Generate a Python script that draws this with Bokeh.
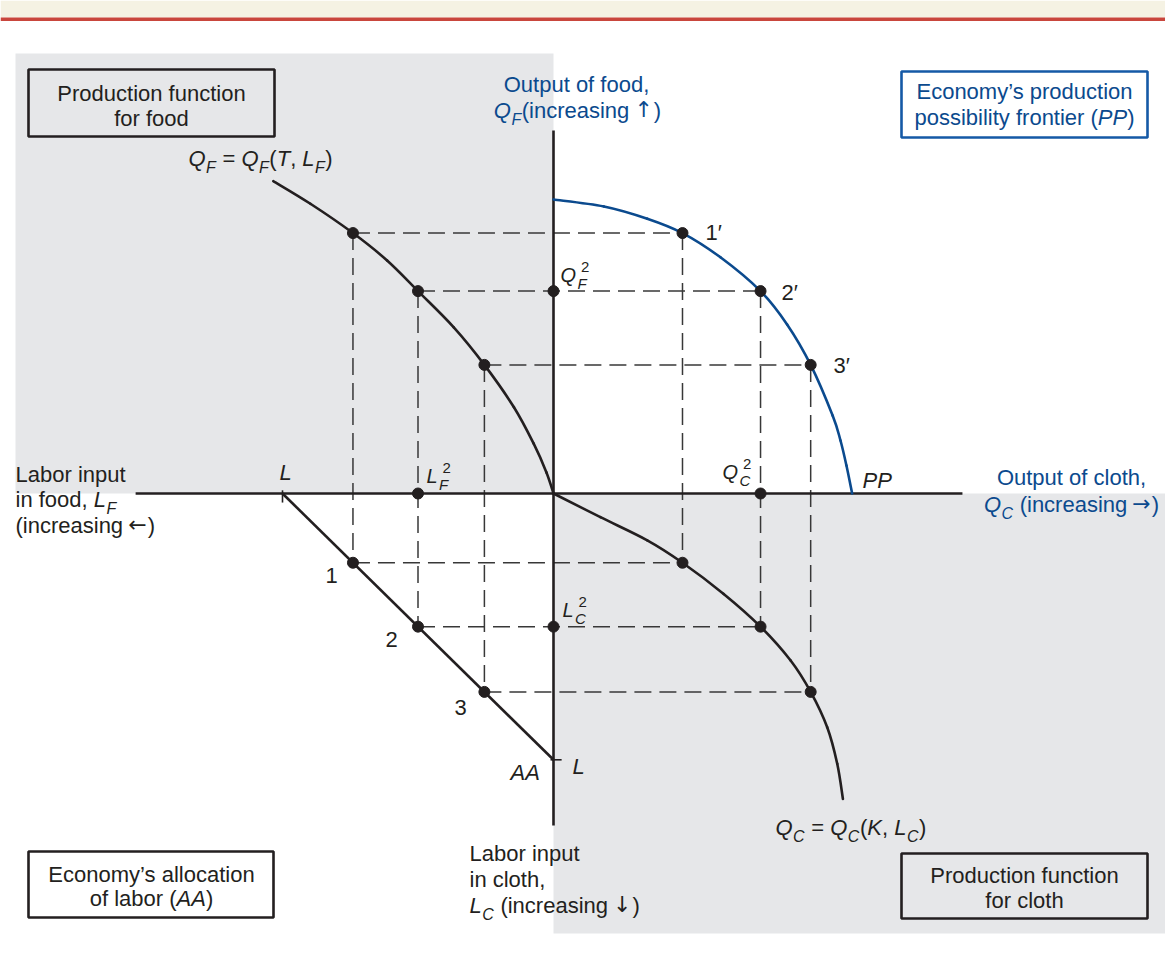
from bokeh.plotting import figure
from bokeh.models import Range1d
from bokeh.core.properties import value
from bokeh.embed import file_html
from bokeh.resources import INLINE

# ---------------- data (units: total labour L = 100) ----------------
labor_total = 100.0
point_labels = ["1", "2", "3"]
labor_food = [74.0, 50.0, 25.5]
labor_cloth = [26.0, 50.0, 74.5]
food_output = [97.8, 76.0, 48.3]
cloth_output = [47.6, 76.4, 94.9]

# production function for food  Q_F(T, L_F)
food_pf_labor = [103.4, 89.7, 74.0, 61.4, 50.0, 36.8, 25.5, 14.6, 7.3, 2.6, 0.0]
food_pf_output = [117.3, 108.8, 97.8, 87.5, 76.0, 62.4, 48.3, 32.4, 18.7, 7.9, 0.0]

# production function for cloth  Q_C(K, L_C)
cloth_pf_labor = [0.0, 8.9, 17.6, 26.0, 37.7, 50.0, 62.7, 74.5, 87.8, 101.5, 114.7]
cloth_pf_output = [0.0, 17.3, 34.6, 47.6, 62.8, 76.4, 87.5, 94.9, 101.0, 104.7, 106.8]

# production possibility frontier PP
pp_cloth = [0.0, 18.6, 34.6, 47.6, 61.6, 76.4, 86.2, 94.9, 103.0, 105.9, 108.1, 110.2]
pp_food = [110.4, 107.8, 103.2, 97.8, 88.7, 76.0, 63.5, 48.3, 29.3, 19.9, 10.5, 0.0]

axis_h = [-154.2, 150.9]
axis_v = [136.3, -124.7]

# ---------------- layout helpers ----------------
OX, OY, SX, SY = 553.0, 493.0, 2.71, 2.663
def X(px):
    return (px - OX) / SX
def Y(py):
    return (OY - py) / SY

INK = "#231f20"
BLUE = "#0b4a8e"
BOXBLUE = "#1559a6"
GRAY = "#e6e7e9"
DASH = "#383838"
FONT = "Liberation Sans"
FS = 22
SS = 16

W_FIG, H_FIG = 1165, 941
p = figure(width=W_FIG, height=H_FIG, x_range=Range1d(X(0), X(W_FIG)),
           y_range=Range1d(Y(H_FIG), Y(0)), output_backend="svg",
           toolbar_location=None, min_border=0, x_axis_type=None, y_axis_type=None)
p.grid.visible = False
p.outline_line_color = None
p.background_fill_color = "white"
p.border_fill_color = "white"

# top band
p.quad(left=[X(0)], right=[X(W_FIG)], bottom=[Y(17)], top=[Y(0)],
       fill_color="#f5f2e3", line_color=None)
p.quad(left=[X(0)], right=[X(W_FIG)], bottom=[Y(20.5)], top=[Y(17)],
       fill_color="#c9463d", line_color=None)

# gray quadrants
p.quad(left=[X(15)], right=[0], bottom=[0], top=[Y(53)], fill_color=GRAY, line_color=None)
p.quad(left=[0], right=[X(1165)], bottom=[Y(933)], top=[0], fill_color=GRAY, line_color=None)

# dashed guide lines
hx0, hx1, hy, vx, vy0, vy1 = [], [], [], [], [], []
for lf, lc, qf, qc in zip(labor_food, labor_cloth, food_output, cloth_output):
    hx0 += [-lf, -lf]; hx1 += [qc, qc]; hy += [qf, -lc]
    vx += [-lf, qc]; vy0 += [qf, qf]; vy1 += [-lc, -lc]
p.segment(x0=hx0, y0=hy, x1=hx1, y1=hy, line_color=DASH, line_width=1.5, line_dash="17 8")
p.segment(x0=vx, y0=vy0, x1=vx, y1=vy1, line_color=DASH, line_width=1.5, line_dash="17 8")

# axes
p.line(x=axis_h, y=[0, 0], line_color=INK, line_width=2.6)
p.line(x=[0, 0], y=axis_v, line_color=INK, line_width=2.6)
# ticks at L
p.segment(x0=[-labor_total, -1.1], y0=[1.2, -labor_total], x1=[-labor_total, 3.0],
          y1=[-3.4, -labor_total], line_color=INK, line_width=1.6)


def smooth_curve(xs, ys, color):
    """Draw a smooth curve through the given points (Catmull-Rom as Bezier pieces)."""
    n = len(xs)
    px = [xs[0]] + list(xs) + [xs[-1]]
    py = [ys[0]] + list(ys) + [ys[-1]]
    x0, y0, x1, y1, cx0, cy0, cx1, cy1 = [], [], [], [], [], [], [], []
    for i in range(1, n):
        a, b, c, d = i - 1, i, i + 1, i + 2
        x0.append(px[b]); y0.append(py[b]); x1.append(px[c]); y1.append(py[c])
        cx0.append(px[b] + (px[c] - px[a]) / 6.0); cy0.append(py[b] + (py[c] - py[a]) / 6.0)
        cx1.append(px[c] - (px[d] - px[b]) / 6.0); cy1.append(py[c] - (py[d] - py[b]) / 6.0)
    p.bezier(x0=x0, y0=y0, x1=x1, y1=y1, cx0=cx0, cy0=cy0, cx1=cx1, cy1=cy1,
             line_color=color, line_width=2.6, line_cap="round")


# curves
smooth_curve([-v for v in food_pf_labor], food_pf_output, INK)
smooth_curve(cloth_pf_output, [-v for v in cloth_pf_labor], INK)
smooth_curve(pp_cloth, pp_food, BLUE)
p.line(x=[-labor_total, 0], y=[0, -labor_total], line_color=INK, line_width=2.6)

# dots
dx = ([-v for v in labor_food] + cloth_output + cloth_output + [-v for v in labor_food]
      + [0, -labor_food[1], cloth_output[1], 0])
dy = (food_output + food_output + [-v for v in labor_cloth] + [-v for v in labor_cloth]
      + [food_output[1], 0, 0, -labor_cloth[1]])
p.scatter(x=dx, y=dy, size=11, fill_color=INK, line_color=INK)

# boxes
p.quad(left=[X(28)], right=[X(274)], top=[Y(69)], bottom=[Y(136)],
       fill_color=None, line_color=INK, line_width=2.6)
p.quad(left=[X(28)], right=[X(273)], top=[Y(851)], bottom=[Y(917)],
       fill_color=None, line_color=INK, line_width=2.6)
p.quad(left=[X(901)], right=[X(1147)], top=[Y(853)], bottom=[Y(918)],
       fill_color=None, line_color=INK, line_width=2.6)
p.quad(left=[X(901)], right=[X(1147)], top=[Y(71)], bottom=[Y(137)],
       fill_color=None, line_color=BOXBLUE, line_width=2.6)

# ---------------- text ----------------
W = {' ': 278, '(': 333, ')': 333, ',': 278, '.': 278, '=': 584, '’': 222}
for c in "0123456789":
    W[c] = 556
W.update(dict(zip("ABCDEFGHIJKLMNOPQRSTUVWXYZ",
                  [667, 667, 722, 722, 667, 611, 778, 722, 278, 500, 667, 556, 833,
                   722, 778, 667, 778, 722, 667, 611, 722, 667, 944, 667, 667, 611])))
W.update(dict(zip("abcdefghijklmnopqrstuvwxyz",
                  [556, 556, 500, 556, 556, 278, 556, 556, 222, 222, 500, 222, 833,
                   556, 556, 556, 556, 333, 500, 278, 556, 500, 722, 500, 500, 500])))
ARROW_FONT, ARROW_SIZE, ARROW_W = "DejaVu Sans", 22, 0.838
BASE_FIX = 0.36   # baseline correction (fraction of font size)


def tw(s, size):
    return sum(W.get(c, 556) for c in s) * size / 1000.0


def put(xp, yp, s, size=FS, style="normal", color=INK, align="left", font=FONT):
    stripped = s.lstrip(" ")
    if align == "left":
        xp += tw(s[:len(s) - len(stripped)], size)
    p.text(x=[X(xp)], y=[Y(yp - BASE_FIX * size)], text=[stripped], text_font=value(font),
           text_font_size=f"{size}px", text_font_style=style, text_color=color,
           text_align=align, text_baseline="alphabetic")


SUB_DY = 7


def compose(runs, xp, yp, color=INK, align="left", fs=FS, ss=SS):
    widths = []
    for t, k in runs:
        if k in ("n", "i"):
            widths.append(tw(t, fs))
        elif k == "sub":
            widths.append(tw(t, ss) + 1)
        elif k == "a":
            widths.append(ARROW_W * ARROW_SIZE)
        else:
            widths.append(max(tw(t[0], ss), tw(t[1], ss)) + 4)
    total = sum(widths)
    x = xp - total / 2 if align == "center" else xp
    for (t, k), w in zip(runs, widths):
        if k == "n":
            put(x, yp, t, fs, "normal", color)
        elif k == "i":
            put(x, yp, t, fs, "italic", color)
        elif k == "sub":
            put(x + 0.5, yp + SUB_DY, t, ss, "italic", color)
        elif k == "a":
            put(x - 1, yp - 1, t, ARROW_SIZE, "normal", color, font=ARROW_FONT)
        else:
            put(x + 5, yp - 10, t[0], ss, "normal", color)
            put(x + 1.5, yp + 6, t[1], ss, "italic", color)
        x += w


# box texts
put(151, 101, "Production function", align="center")
put(151, 126, "for food", align="center")
put(1024, 99, "Economy’s production", color=BLUE, align="center")
compose([("possibility frontier (", "n"), ("PP", "i"), (")", "n")], 1024, 125, BLUE, "center")
put(151, 882, "Economy’s allocation", align="center")
compose([("of labor (", "n"), ("AA", "i"), (")", "n")], 151, 906, INK, "center")
put(1024, 883, "Production function", align="center")
put(1024, 908, "for cloth", align="center")

# axis titles
put(576, 92, "Output of food,", color=BLUE, align="center")
compose([("Q", "i"), ("F", "sub"), ("(increasing ", "n"), ("↑", "a"), (")", "n")],
        577, 118, BLUE, "center")
put(1071, 485, "Output of cloth,", color=BLUE, align="center")
compose([("Q", "i"), ("C", "sub"), (" (increasing ", "n"), ("→", "a"), (")", "n")],
        1071, 512, BLUE, "center")
put(15, 482, "Labor input")
compose([("in food, ", "n"), ("L", "i"), ("F", "sub")], 15, 507)
compose([("(increasing ", "n"), ("←", "a"), (")", "n")], 15, 533)
put(469, 861, "Labor input")
put(469, 887, "in cloth,")
compose([("L", "i"), ("C", "sub"), (" (increasing ", "n"), ("↓", "a"), (")", "n")], 469, 913)

# equations
compose([("Q", "i"), ("F", "sub"), (" = ", "n"), ("Q", "i"), ("F", "sub"), ("(", "n"),
         ("T", "i"), (", ", "n"), ("L", "i"), ("F", "sub"), (")", "n")], 188, 166)
compose([("Q", "i"), ("C", "sub"), (" = ", "n"), ("Q", "i"), ("C", "sub"), ("(", "n"),
         ("K", "i"), (", ", "n"), ("L", "i"), ("C", "sub"), (")", "n")], 775, 835)

# point labels
compose([("Q", "i"), (("2", "F"), "ss")], 560, 282, fs=20, ss=15)
compose([("L", "i"), (("2", "F"), "ss")], 426, 483, fs=20, ss=15)
compose([("Q", "i"), (("2", "C"), "ss")], 722, 479, fs=20, ss=15)
compose([("L", "i"), (("2", "C"), "ss")], 562, 617, fs=20, ss=15)
put(862, 488, "PP", style="italic")
put(279, 480, "L", style="italic")
put(572, 774, "L", style="italic")
put(510, 780, "AA", style="italic")
for lab, xp, yp in zip(point_labels, [325, 385, 454], [583, 647, 715]):
    put(xp, yp, lab)
for lab, xp, yp in zip(point_labels, [705, 781, 833], [240, 300, 373]):
    put(xp, yp, lab + "′")

open("out.html", "w").write(file_html(p, INLINE))
